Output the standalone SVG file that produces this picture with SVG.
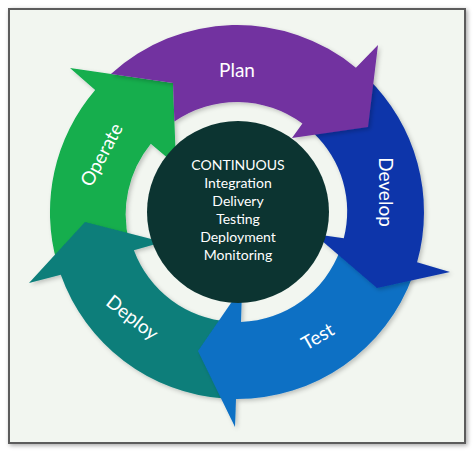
<svg xmlns="http://www.w3.org/2000/svg" width="474" height="452" viewBox="0 0 474 452">
  <defs>
    <filter id="shadow" x="-10%" y="-10%" width="130%" height="130%">
      <feDropShadow dx="2" dy="2" stdDeviation="2" flood-color="#000" flood-opacity="0.22"/>
    </filter>
    <filter id="frameShadow" x="-5%" y="-5%" width="110%" height="110%">
      <feDropShadow dx="1.5" dy="1.5" stdDeviation="2" flood-color="#000" flood-opacity="0.35"/>
    </filter>
    <style>
      .lbl { font-family: "Lato", "Open Sans", "Liberation Sans", sans-serif; fill: #ffffff; text-anchor: middle; }
      .big { font-size: 19px; }
      .mid { font-size: 14px; }
      .arrow { filter: url(#shadow); }
    </style>
  </defs>
  <rect x="0" y="0" width="474" height="452" fill="#ffffff"/>
  <rect x="9" y="9" width="456" height="434" fill="#f2f6f0" stroke="#5c5c5c" stroke-width="2" filter="url(#frameShadow)"/>

  <g id="connectors">
    <g id="operate">
      <path class="arrow" fill="#12ae4e" d="M57.2,263.5 A187,187 0 0 1 95.2,90.1 L70,68 L173,83 L176,165 L150.8,143.7 A112,112 0 0 0 129.3,242.8 Z"/>
      <text class="lbl big" transform="translate(102,155) rotate(-62)" x="0" y="6">Operate</text>
    </g>
    <g id="deploy">
      <path class="arrow" fill="#0a7e7a" d="M224,398.5 A187,187 0 0 1 60.8,274.7 L29,283 L85,222 L163,242 L133.9,250.3 A110,110 0 0 0 229.3,321.7 Z"/>
      <text class="lbl big" transform="translate(132,318) rotate(38)" x="0" y="6">Deploy</text>
    </g>
    <g id="test">
      <path class="arrow" fill="#0b6fc4" d="M412.7,276 A187,187 0 0 1 236,399 L235,427 L198,351 L242,287 L241,321.9 A110,110 0 0 0 340.4,249.6 Z"/>
      <text class="lbl big" transform="translate(318,337) rotate(-30)" x="0" y="6">Test</text>
    </g>
    <g id="develop">
      <path class="arrow" fill="#0b36aa" d="M366.9,77.5 A187,187 0 0 1 417.1,262.3 L450,272 L377,288 L314,234 L343.8,238.2 A108,108 0 0 0 313.4,132.9 Z"/>
      <text class="lbl big" transform="translate(385,192) rotate(90)" x="0" y="6">Develop</text>
    </g>
    <g id="plan">
      <path class="arrow" fill="#7231a0" d="M110.9,74 A187,187 0 0 1 355.9,67.7 L378,45 L368,127 L292,138 L302.4,123.6 A110,110 0 0 0 174.4,121.5 L173,83 Z"/>
      <text class="lbl big" x="237" y="77">Plan</text>
    </g>
  </g>

  <g id="center">
    <circle cx="238" cy="212" r="91" fill="#0c3431"/>
    <text class="lbl mid" x="238" y="170">CONTINUOUS</text>
    <text class="lbl mid" x="238" y="188">Integration</text>
    <text class="lbl mid" x="238" y="206">Delivery</text>
    <text class="lbl mid" x="238" y="224">Testing</text>
    <text class="lbl mid" x="238" y="242">Deployment</text>
    <text class="lbl mid" x="238" y="260">Monitoring</text>
  </g>
</svg>
